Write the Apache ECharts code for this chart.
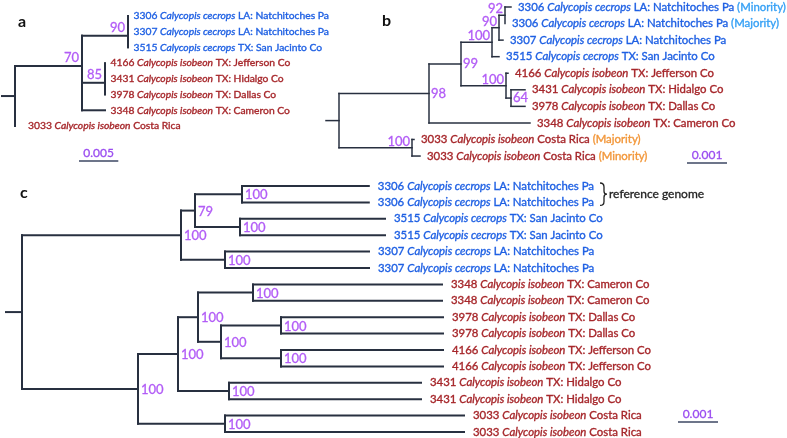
<!DOCTYPE html>
<html><head><meta charset="utf-8">
<script src="https://cdn.jsdelivr.net/npm/echarts@6/dist/echarts.min.js"></script>
<style>html,body{margin:0;padding:0;background:#fff}#c{width:787px;height:438px}</style>
</head><body><div id="c"></div>
<script>
// ================= DATA =================
// Panel a : nodes in preorder (parent index, branch length, bootstrap support)
const aParent  = [-1,0,1,2,3,3,2,1,7,8,9,9,8,7,0];
const aLength  = [0,0.008524,0.005852,0,0,0,0,0,0.002926,0,0,0,0,0.002926,0];
const aSupport = [null,70,90,null,null,null,null,null,85,null,null,null,null,null,null];
const aLeafId      = ['3306','3307','3515','4166','3431','3978','3348','3033'];
const aLeafSpecies = ['cecrops','cecrops','cecrops','isobeon','isobeon','isobeon','isobeon','isobeon'];
const aLeafPlace   = ['LA: Natchitoches Pa','LA: Natchitoches Pa','TX: San Jacinto Co','TX: Jefferson Co','TX: Hidalgo Co','TX: Dallas Co','TX: Cameron Co','Costa Rica'];
const aLeafNote    = ['','','','','','','',''];
const aScale = 0.005;

// Panel b
const bParent  = [-1,0,1,2,3,4,5,5,4,3,2,10,10,12,12,1,0,16,16];
const bLength  = [0,0.00225,0.0008,0.000775,0.000175,0.00015,0.00015,0,0.0001,0.000175,0.001125,0.00005,0.000125,0.00035,0.00035,0.002525,0.001825,0.00005,0.0002];
const bSupport = [null,98,99,100,90,92,null,null,null,null,100,null,64,null,null,null,100,null,null];
const bLeafId      = ['3306','3306','3307','3515','4166','3431','3978','3348','3033','3033'];
const bLeafSpecies = ['cecrops','cecrops','cecrops','cecrops','isobeon','isobeon','isobeon','isobeon','isobeon','isobeon'];
const bLeafPlace   = ['LA: Natchitoches Pa','LA: Natchitoches Pa','LA: Natchitoches Pa','TX: San Jacinto Co','TX: Jefferson Co','TX: Hidalgo Co','TX: Dallas Co','TX: Cameron Co','Costa Rica','Costa Rica'];
const bLeafNote    = ['Minority','Majority','','','','','','','Majority','Minority'];
const bScale = 0.001;

// Panel c
const cParent  = [-1,0,1,2,3,3,2,6,6,1,9,9,0,12,13,14,15,15,14,18,19,19,18,22,22,13,25,25,12,28,28];
const cLength  = [0,0.003975,0.00035,0.001175,0.00317,0.00317,0.001125,0.003625,0.003625,0.0011,0.0036,0.0036,
                  0.0029,0.001,0.0005,0.001375,0.004725,0.004725,0.000575,0.0015,0.00405,0.00405,0.0015,0.00405,0.00405,
                  0.001275,0.0048,0.0048,0.002175,0.005975,0.005975];
const cSupport = [null,100,79,100,null,null,100,null,null,100,null,null,100,100,100,100,null,null,100,100,null,null,100,null,null,100,null,null,100,null,null];
const cLeafId      = ['3306','3306','3515','3515','3307','3307','3348','3348','3978','3978','4166','4166','3431','3431','3033','3033'];
const cLeafSpecies = ['cecrops','cecrops','cecrops','cecrops','cecrops','cecrops','isobeon','isobeon','isobeon','isobeon','isobeon','isobeon','isobeon','isobeon','isobeon','isobeon'];
const cLeafPlace   = ['LA: Natchitoches Pa','LA: Natchitoches Pa','TX: San Jacinto Co','TX: San Jacinto Co','LA: Natchitoches Pa','LA: Natchitoches Pa',
                      'TX: Cameron Co','TX: Cameron Co','TX: Dallas Co','TX: Dallas Co','TX: Jefferson Co','TX: Jefferson Co','TX: Hidalgo Co','TX: Hidalgo Co','Costa Rica','Costa Rica'];
const cLeafNote    = ['','','','','','','','','','','','','','','',''];
const cScale = 0.001;
const cBraceText = 'reference genome';
const genus = 'Calycopis';

// ================= STYLE / LAYOUT =================
const FONT = 'Lato, "Open Sans", sans-serif';
const LINE = '#283040';
const SP_COLOR = {cecrops:'#1d5fe3', isobeon:'#a6262a'};
const NOTE_COLOR = {cecrops:'#35a0f5', isobeon:'#f29638'};
const PURPLE = '#b25cf6';
const SCALE_TXT = '#9a4cf0';
const SCALE_LINE = '#3d4763';
const EMBOLDEN = 0.35;

const panels = [
  {parent:aParent,length:aLength,support:aSupport,ids:aLeafId,sp:aLeafSpecies,place:aLeafPlace,note:aLeafNote,scale:aScale,
   rootPx:15, topPx:16, rowPx:15.714, pxPerUnit:7860, stubPx:13, width:320, fs:10.3, gap:5.5, lw:2,
   side:{}, padOverride:{14:13}, L:[-3,-8], R:[3,1], scalePx:[79,161], scaleDigits:3},
  {parent:bParent,length:bLength,support:bSupport,ids:bLeafId,sp:bLeafSpecies,place:bLeafPlace,note:bLeafNote,scale:bScale,
   rootPx:339, topPx:7, rowPx:16.56, pxPerUnit:40000, stubPx:13, width:440, fs:11.4, gap:7, lw:1.5,
   side:{1:'R',2:'R',12:'R'}, padOverride:{}, L:[-2,-6], R:[2,0], scalePx:[687,163], scaleDigits:3},
  {parent:cParent,length:cLength,support:cSupport,ids:cLeafId,sp:cLeafSpecies,place:cLeafPlace,note:cLeafNote,scale:cScale,
   rootPx:22, topPx:186, rowPx:16.4, pxPerUnit:40000, stubPx:16, width:740, fs:11.4, gap:9, lw:2,
   side:'R', padOverride:{}, L:[-3,-6], R:[3,1], scalePx:[678,422], scaleDigits:3, brace:{px:600}}
];

function layout(parent, length){
  const n = parent.length;
  const children = Array.from({length:n},()=>[]);
  for(let i=1;i<n;i++) children[parent[i]].push(i);
  const x = new Array(n).fill(0), y = new Array(n).fill(0);
  for(let i=1;i<n;i++) x[i] = x[parent[i]] + length[i];
  let k=0; const leaves=[];
  for(let i=0;i<n;i++) if(!children[i].length){ y[i]=k++; leaves.push(i); }
  for(let i=n-1;i>=0;i--) if(children[i].length){ const c=children[i]; y[i]=(y[c[0]]+y[c[c.length-1]])/2; }
  return {children,x,y,leaves};
}

const grids=[], xAxes=[], yAxes=[], series=[];
panels.forEach((P,pi)=>{
  const T = layout(P.parent,P.length);
  const nLeaf = T.leaves.length;
  const stub = P.stubPx/P.pxPerUnit;
  grids.push({left:P.rootPx-P.stubPx, top:P.topPx, width:P.width, height:(nLeaf-1)*P.rowPx});
  xAxes.push({type:'value', gridIndex:pi, min:-stub, max:(P.width-P.stubPx)/P.pxPerUnit, show:false});
  yAxes.push({type:'value', gridIndex:pi, min:0, max:nLeaf-1, inverse:true, show:false});

  // branch segments
  const segs = [[-stub, T.y[0], 0, T.y[0]]];
  for(let i=1;i<P.parent.length;i++) segs.push([T.x[P.parent[i]], T.y[i], T.x[i], T.y[i]]);
  T.children.forEach((c,i)=>{ if(c.length) segs.push([T.x[i], T.y[c[0]], T.x[i], T.y[c[c.length-1]]]); });
  series.push({type:'custom', xAxisIndex:pi, yAxisIndex:pi, clip:false, silent:true, data:segs,
    renderItem:(params,api)=>{
      const p1=api.coord([api.value(0),api.value(1)]), p2=api.coord([api.value(2),api.value(3)]);
      return {type:'line', shape:{x1:p1[0],y1:p1[1],x2:p2[0],y2:p2[1]}, style:{stroke:LINE,lineWidth:P.lw,lineCap:'square'}};
    }});

  // leaf labels
  const leafData = T.leaves.map((node,k)=>[T.x[node], T.y[node], k, node]);
  series.push({type:'custom', xAxisIndex:pi, yAxisIndex:pi, clip:false, silent:true, data:leafData,
    renderItem:(params,api)=>{
      const k=api.value(2), node=api.value(3);
      const p=api.coord([api.value(0),api.value(1)]);
      const sp=P.sp[k];
      let txt='{n|'+P.ids[k]+' }{i|'+genus+' '+sp+'}{n| '+P.place[k]+'}';
      if(P.note[k]) txt+='{m| ('+P.note[k]+')}';
      const pad = P.padOverride[node]!==undefined ? P.padOverride[node] : P.gap;
      const base={fill:SP_COLOR[sp], fontSize:P.fs, fontFamily:FONT, stroke:SP_COLOR[sp], lineWidth:EMBOLDEN};
      return {type:'text', style:{x:p[0]+pad, y:p[1], text:txt, verticalAlign:'middle', align:'left',
        fontSize:P.fs, fontFamily:FONT,
        rich:{n:base, i:Object.assign({},base,{fontStyle:'italic'}),
              m:{fill:NOTE_COLOR[sp],fontSize:P.fs,fontFamily:FONT,stroke:NOTE_COLOR[sp],lineWidth:EMBOLDEN}}}};
    }});

  // support values
  const supData=[];
  P.support.forEach((s,i)=>{ if(s!=null){ const side = P.side==='R' ? 'R' : (P.side[i]||'L'); supData.push([T.x[i],T.y[i],s,side==='R'?1:0]); }});
  series.push({type:'custom', xAxisIndex:pi, yAxisIndex:pi, clip:false, silent:true, data:supData,
    renderItem:(params,api)=>{
      const p=api.coord([api.value(0),api.value(1)]);
      const r=api.value(3)===1, off=r?P.R:P.L;
      return {type:'text', style:{x:p[0]+off[0], y:p[1]+off[1], text:String(api.value(2)), align:r?'left':'right',
        verticalAlign:'middle', fill:PURPLE, fontSize:13, fontFamily:FONT, stroke:PURPLE, lineWidth:0.3}};
    }});

  // scale bar
  const sx=(P.scalePx[0]-P.rootPx)/P.pxPerUnit, sy=(P.scalePx[1]-P.topPx)/P.rowPx;
  series.push({type:'custom', xAxisIndex:pi, yAxisIndex:pi, clip:false, silent:true, data:[[sx,sy,P.scale]],
    renderItem:(params,api)=>{
      const a=api.coord([api.value(0),api.value(1)]), b=api.coord([api.value(0)+api.value(2),api.value(1)]);
      return {type:'group', children:[
        {type:'line', shape:{x1:a[0],y1:a[1],x2:b[0],y2:b[1]}, style:{stroke:SCALE_LINE,lineWidth:1.6}},
        {type:'text', style:{x:(a[0]+b[0])/2, y:a[1]-7.5, text:api.value(2).toFixed(P.scaleDigits), align:'center', verticalAlign:'middle',
          fill:SCALE_TXT, fontSize:12, fontFamily:FONT, stroke:SCALE_TXT, lineWidth:0.3}}]};
    }});

  // brace
  if(P.brace){
    const bx=(P.brace.px-P.rootPx)/P.pxPerUnit;
    series.push({type:'custom', xAxisIndex:pi, yAxisIndex:pi, clip:false, silent:true, data:[[bx,0,1]],
      renderItem:(params,api)=>{
        const t=api.coord([api.value(0),api.value(1)]), b=api.coord([api.value(0),api.value(2)]);
        const x=t[0], y1=t[1]-3, y2=b[1]+3, ym=(y1+y2)/2;
        const d=`M${x},${y1} Q${x+4},${y1} ${x+4},${y1+4} L${x+4},${ym-3} Q${x+4},${ym} ${x+7},${ym} Q${x+4},${ym} ${x+4},${ym+3} L${x+4},${y2-4} Q${x+4},${y2} ${x},${y2}`;
        return {type:'group', children:[
          {type:'path', shape:{pathData:d}, style:{stroke:'#222',fill:null,lineWidth:1.3}},
          {type:'text', style:{x:x+9, y:ym, text:cBraceText, align:'left', verticalAlign:'middle', fill:'#222', fontSize:12, fontFamily:FONT,
            stroke:'#222', lineWidth:0.3}}]};
      }});
  }
});

const chart = echarts.init(document.getElementById('c'), null, {renderer:'canvas'});
chart.setOption({
  animation:false,
  backgroundColor:'#fff',
  grid:grids, xAxis:xAxes, yAxis:yAxes, series:series,
  graphic:[
    {type:'text', x:18, y:22, style:{text:'a', font:'bold 16px '+FONT, fill:'#111', verticalAlign:'middle'}},
    {type:'text', x:382, y:21, style:{text:'b', font:'bold 16px '+FONT, fill:'#111', verticalAlign:'middle'}},
    {type:'text', x:20, y:193, style:{text:'c', font:'bold 16px '+FONT, fill:'#111', verticalAlign:'middle'}}
  ]
});
</script></body></html>
